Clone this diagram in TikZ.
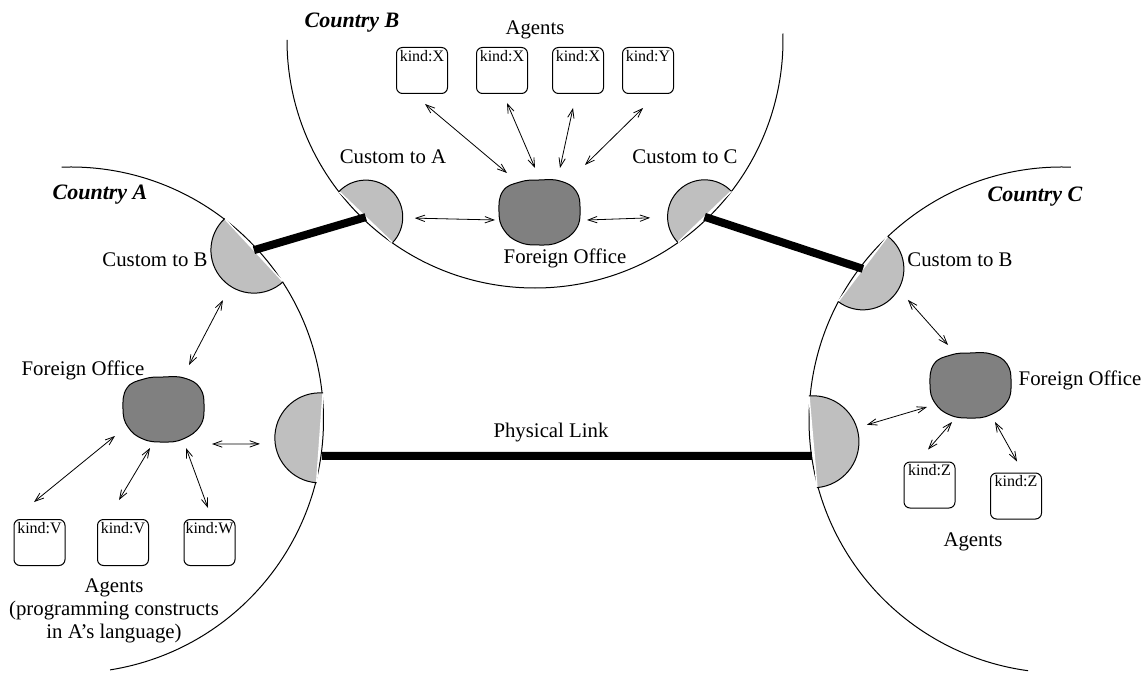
\documentclass[tikz,border=0pt]{standalone}
\usepackage{fontspec}
\setmainfont{Liberation Serif}
\usetikzlibrary{arrows.meta}
\definecolor{cgrey}{RGB}{191,191,191}
\definecolor{fgrey}{RGB}{128,128,128}
\tikzset{world/.style={x=0.5pt,y=-0.5pt,font=\fontsize{10.4}{12}\selectfont,
           >={Straight Barb[length=4.5pt,width=3.2pt]}}}
\tikzset{border/.style={line width=0.5pt},
         link/.style={line width=4pt},
         dbl/.style={<->,line width=0.4pt},
         agent/.style={draw,line width=0.5pt,rounded corners=3pt,
                       minimum width=25.5pt,minimum height=23pt,inner sep=0pt},
         kindlbl/.style={anchor=north,inner sep=1.4pt,font=\fontsize{8}{9}\selectfont},
         ctry/.style={font=\fontsize{11}{13}\selectfont\bfseries\itshape},
         lbl/.style={inner sep=0pt}}
% custom half-disc: name, country centre, radius of country, angle, radius
\newcommand\custom[5]{%
  \coordinate (#1) at ([shift={(#4:#3-3)}]#2);
  \fill[cgrey] ([shift={(#4+90:#5)}]#1) arc[start angle=#4+90,end angle=#4+270,radius=#5] -- cycle;
  \draw[white,line width=0.7pt] ([shift={(#4+90:#5)}]#1) -- ([shift={(#4-90:#5)}]#1);
  \draw[border] ([shift={(#4+90:#5)}]#1) arc[start angle=#4+90,end angle=#4+270,radius=#5];}
% foreign office blob
\newcommand\office[2]{%
  \coordinate (#1) at (#2);
  \draw[fill=fgrey,line width=0.5pt,shift={(#2)}] plot[smooth cycle,tension=0.75] coordinates
    {(-40,0) (-36,-21) (-19,-30) (0,-32) (21,-31) (37,-21) (41,-2) (37,17) (20,30) (0,33) (-20,30) (-35,18)};}

\begin{document}
\begin{tikzpicture}[world]
  \useasboundingbox (0,0) rectangle (1143,673);
  \coordinate (ctA) at (70.5,420);
  \coordinate (ctB) at (535,40);
  \coordinate (ctC) at (1062,420);

  % countries
  \draw[border] ([shift={(-92:253)}]ctA) arc[start angle=-92,end angle=81,radius=253];
  \draw[border] ([shift={(180:248)}]ctB) arc[start angle=180,end angle=-1.5,radius=248];
  \draw[border] ([shift={(272:253)}]ctC) arc[start angle=272,end angle=97.7,radius=253];

  % customs
  \custom{cAB}{ctA}{253}{-42.8}{43}
  \custom{cAL}{ctA}{253}{4.1}{45}
  \custom{cBA}{ctB}{248}{133.7}{37}
  \custom{cBC}{ctB}{248}{46.2}{37}
  \custom{cCB}{ctC}{253}{217.2}{41}
  \custom{cCL}{ctC}{253}{175}{46}

  % links
  \draw[link] (cAB) -- (cBA);
  \draw[link] (cBC) -- (cCB);
  \draw[link] ([shift={(2,18)}]cAL) -- ([shift={(-1,14)}]cCL);

  % foreign offices
  \office{foA}{163,409}
  \office{foB}{539,212}
  \office{foC}{970,385}

  % agents
  \node[agent,label={[kindlbl]north:{kind:X}}] (bxB1) at (422,70.5) {};
  \node[agent,label={[kindlbl]north:{kind:X}}] (bxB2) at (502,70.5) {};
  \node[agent,label={[kindlbl]north:{kind:X}}] (bxB3) at (578,70.5) {};
  \node[agent,label={[kindlbl]north:{kind:Y}}] (bxB4) at (648,70.5) {};
  \node[agent,label={[kindlbl]north:{kind:V}}] (bxA1) at (39.5,542.5) {};
  \node[agent,label={[kindlbl]north:{kind:V}}] (bxA2) at (123,542.5) {};
  \node[agent,label={[kindlbl]north:{kind:W}}] (bxA3) at (209.5,542.5) {};
  \node[agent,label={[kindlbl]north:{kind:Z}}] (bxC1) at (929.5,485) {};
  \node[agent,label={[kindlbl]north:{kind:Z}}] (bxC2) at (1016,496) {};

  % country B arrows
  \draw[dbl] ([shift={(3,10)}]bxB1.south) -- ([shift={(-32,-39)}]foB);
  \draw[dbl] ([shift={(5,9)}]bxB2.south) -- ([shift={(-4,-44)}]foB);
  \draw[dbl] ([shift={(-5,14)}]bxB3.south) -- ([shift={(21,-44)}]foB);
  \draw[dbl] ([shift={(-5,14)}]bxB4.south) -- ([shift={(46,-47)}]foB);
  \draw[dbl] ([shift={(49,1)}]cBA) -- ([shift={(-44,8)}]foB);
  \draw[dbl] ([shift={(48,8)}]foB) -- ([shift={(-54.5,1)}]cBC);

  % country A arrows
  \draw[dbl] ([shift={(-31,50)}]cAB) -- ([shift={(26,-44)}]foA);
  \draw[dbl] ([shift={(-48,27)}]foA) -- ([shift={(-5.5,-17)}]bxA1.north);
  \draw[dbl] ([shift={(-13,39)}]foA) -- ([shift={(-4,-19)}]bxA2.north);
  \draw[dbl] ([shift={(23,39)}]foA) -- ([shift={(-1.5,-11)}]bxA3.north);
  \draw[dbl] ([shift={(49,35)}]foA) -- ([shift={(-60,6)}]cAL);

  % country C arrows
  \draw[dbl] ([shift={(45,31)}]cCB) -- ([shift={(-22,-40)}]foC);
  \draw[dbl] ([shift={(-43,22)}]foC) -- ([shift={(54,-17)}]cCL);
  \draw[dbl] ([shift={(-18,37)}]foC) -- ([shift={(-1.5,-12)}]bxC1.north);
  \draw[dbl] ([shift={(25,37)}]foC) -- ([shift={(1,-11)}]bxC2.north);

  % labels
  \node[ctry] (nmA) at (100,195) {Country A};
  \node[ctry] (nmB) at (352,23) {Country B};
  \node[ctry] (nmC) at (1035,197) {Country C};
  \node[lbl] (tAB) at (155,260) {Custom to B};
  \node[lbl] (tBA) at (393,157) {Custom to A};
  \node[lbl] (tBC) at (685,157) {Custom to C};
  \node[lbl] (tCB) at (960,260) {Custom to B};
  \node[lbl] (tfA) at (83,370) {Foreign Office};
  \node[lbl] (tfB) at (565,258) {Foreign Office};
  \node[lbl] (tfC) at (1080,380) {Foreign Office};
  \node[lbl] (tgB) at (535,30) {Agents};
  \node[lbl] (tgC) at (973,542) {Agents};
  \node[lbl,align=center,font=\fontsize{10.4}{11.4}\selectfont] (tgA) at (114,611)
    {Agents\\(programming constructs\\in A's language)};
  \node[lbl] (tph) at (551,433) {Physical Link};
\end{tikzpicture}
\end{document}
